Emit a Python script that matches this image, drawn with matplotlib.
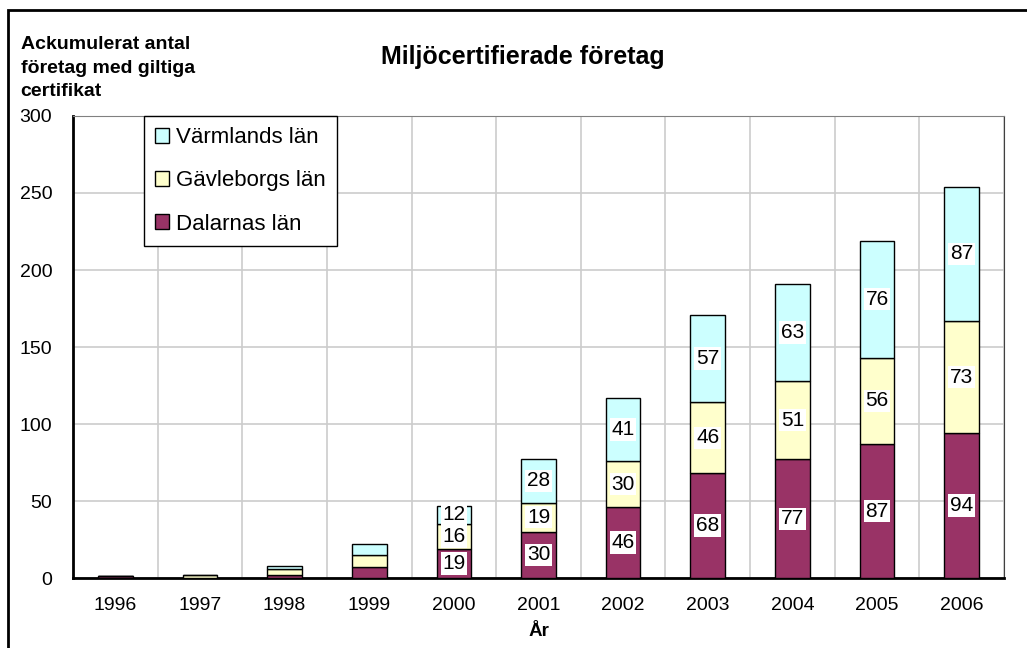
# Miljöcertifierade företag, ackumulerat antal per län (staplad stapel)

import numpy as np
import matplotlib.pyplot as plt
from matplotlib.patches import Rectangle

plt.rcParams['font.family'] = ['Liberation Sans', 'DejaVu Sans']

years = ['1996', '1997', '1998', '1999', '2000', '2001', '2002', '2003', '2004', '2005', '2006']
dalarnas = [1, 0, 2, 7, 19, 30, 46, 68, 77, 87, 94]
gavleborgs = [0, 2, 4, 8, 16, 19, 30, 46, 51, 56, 73]
varmlands = [0, 0, 2, 7, 12, 28, 41, 57, 63, 76, 87]

series = [
    ('Dalarnas län', dalarnas, '#993366'),
    ('Gävleborgs län', gavleborgs, '#FFFFCC'),
    ('Värmlands län', varmlands, '#CCFFFF'),
]

fig = plt.figure(figsize=(10.27, 6.48), dpi=100)
ax = fig.add_axes([0.0711, 0.108, 0.9065, 0.713])

x = np.arange(len(years))
bottom = np.zeros(len(years))
handles = []
for name, vals, col in series:
    vals = np.array(vals, dtype=float)
    bars = ax.bar(x, vals, width=0.41, bottom=bottom, color=col,
                  edgecolor='black', linewidth=1.0, label=name, zorder=3)
    handles.append(bars)
    for xi, b, v in zip(x, bottom, vals):
        if v >= 10:
            ax.text(xi, b + v / 2, f'{int(v)}', ha='center', va='center',
                    fontsize=15, zorder=4,
                    bbox=dict(boxstyle='square,pad=0.08', fc='white', ec='none'))
    bottom += vals

ax.set_xlim(-0.5, len(years) - 0.5)
ax.set_ylim(0, 300)
ax.set_yticks(np.arange(0, 301, 50))
ax.set_xticks(x)
ax.set_xticklabels(years)
ax.set_xticks(np.arange(-0.5, len(years), 1), minor=True)
ax.tick_params(axis='both', which='both', length=0, labelsize=14)
ax.tick_params(axis='y', pad=15)
ax.tick_params(axis='x', pad=14)

ax.grid(axis='y', which='major', color='#cccccc', linewidth=1.2, zorder=0)
ax.grid(axis='x', which='minor', color='#cccccc', linewidth=1.2, zorder=0)
ax.set_axisbelow(True)

ax.spines['left'].set_linewidth(2)
ax.spines['bottom'].set_linewidth(2)
ax.spines['top'].set_color('#808080')
ax.spines['right'].set_color('#404040')

ax.set_xlabel('År', fontsize=13.5, fontweight='bold', labelpad=6)

fig.text(0.509, 0.912, 'Miljöcertifierade företag', ha='center', va='center',
         fontsize=18, fontweight='bold')
fig.text(0.02, 0.944, 'Ackumulerat antal\nföretag med giltiga\ncertifikat',
         ha='left', va='top', fontsize=14, fontweight='bold', linespacing=1.5)

leg = ax.legend(handles=handles[::-1], loc='upper left',
                bbox_to_anchor=(0.076, 1.0), fontsize=16, frameon=True,
                fancybox=False, edgecolor='black', framealpha=1,
                handlelength=0.65, handleheight=0.65, handletextpad=0.3,
                labelspacing=1.0, borderpad=0.5, borderaxespad=0)
leg.get_frame().set_linewidth(1.0)

# ram runt hela figuren
fig.patches.append(Rectangle((8 / 1027, -0.1), 1.2, 1 - 10 / 648 + 0.1,
                             transform=fig.transFigure, fill=False,
                             edgecolor='black', linewidth=2))

fig.savefig('out.png', dpi=100)
